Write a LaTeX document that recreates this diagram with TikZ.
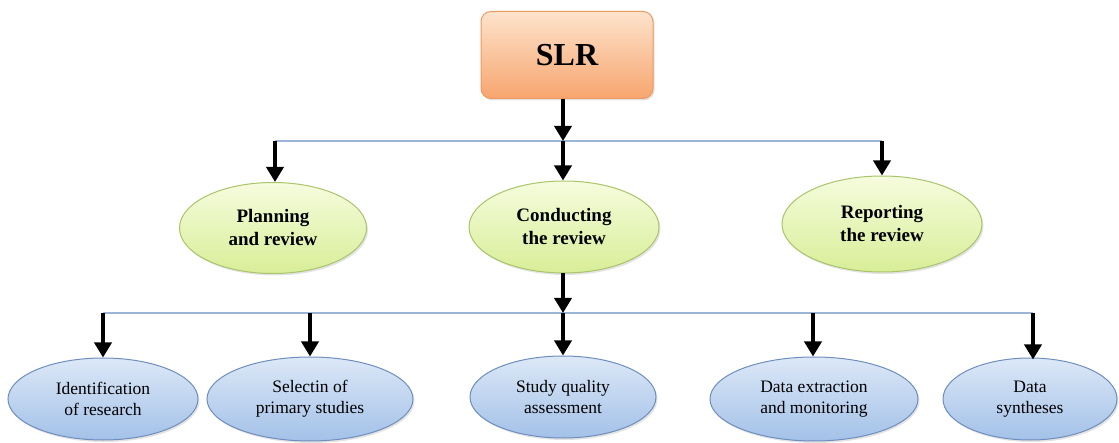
\documentclass[tikz,border=0pt]{standalone}
\usepackage{fontspec}
\setmainfont{Liberation Serif}
\usetikzlibrary{arrows.meta,shapes.geometric,shadows}

\definecolor{rootTop}{HTML}{FDE3CC}
\definecolor{rootBot}{HTML}{F7A56E}
\definecolor{rootLine}{HTML}{EE9A5E}
\definecolor{phaseTop}{HTML}{F6FCDD}
\definecolor{phaseBot}{HTML}{D8EE98}
\definecolor{phaseLine}{HTML}{A9C46A}
\definecolor{stepTop}{HTML}{DCE8F7}
\definecolor{stepBot}{HTML}{A3C1E8}
\definecolor{stepLine}{HTML}{6E8EBD}
\definecolor{busLine}{HTML}{9DB5D5}

\tikzset{
  softshadow/.style={drop shadow={opacity=0.22,shadow xshift=1.5pt,shadow yshift=-2pt}},
  rootbox/.style={rectangle,rounded corners=10pt,draw=rootLine,line width=1pt,
    top color=rootTop,bottom color=rootBot,softshadow,
    minimum width=172pt,minimum height=87pt,inner sep=0pt,
    font=\fontsize{32}{36}\selectfont\bfseries},
  phase/.style={ellipse,draw=phaseLine,line width=1pt,
    top color=phaseTop,bottom color=phaseBot,softshadow,
    inner sep=0pt,align=center,
    font=\fontsize{19}{23}\selectfont\bfseries},
  stepnode/.style={ellipse,draw=stepLine,line width=1pt,
    top color=stepTop,bottom color=stepBot,softshadow,
    inner sep=0pt,align=center,
    font=\fontsize{17.5}{21}\selectfont},
  bus/.style={draw=busLine,line width=1.6pt},
  down/.style={draw=black,line width=3.6pt,
    -{Triangle[width=17pt,length=15pt]}},
}

\begin{document}
\begin{tikzpicture}[x=1pt,y=-1pt]
  \useasboundingbox (0,0) rectangle (1119,443);

  % root
  \node[rootbox] (slr) at (567,55) {SLR};

  % phases
  \node[phase,minimum width=187pt,minimum height=91pt] (plan) at (273,228) {Planning\\and review};
  \node[phase,minimum width=190pt,minimum height=92pt] (cond) at (564,227) {Conducting\\the review};
  \node[phase,minimum width=200pt,minimum height=96pt] (rep)  at (882,224) {Reporting\\the review};

  % steps of conducting
  \node[stepnode,minimum width=190pt,minimum height=82pt] (ident) at (103,399) {Identification\\of research};
  \node[stepnode,minimum width=206pt,minimum height=84pt] (sel)   at (310,399) {Selectin of\\primary studies};
  \node[stepnode,minimum width=186pt,minimum height=82pt] (qual)  at (563,397) {Study quality\\assessment};
  \node[stepnode,minimum width=208pt,minimum height=84pt] (extr)  at (814,399) {Data extraction\\and monitoring};
  \node[stepnode,minimum width=174pt,minimum height=82pt] (syn)   at (1030,399) {Data\\syntheses};

  % first-level bus
  \coordinate (b1l) at (275,141);
  \coordinate (b1m) at (563,141);
  \coordinate (b1r) at (882,141);
  \draw[bus] (b1l) -- (b1r);
  \draw[down] (slr.south -| b1m) -- (b1m);
  \draw[down] (b1l) -- (plan.north -| b1l);
  \draw[down] (b1m) -- (cond.north -| b1m);
  \draw[down] (b1r) -- (rep.north -| b1r);

  % second-level bus
  \coordinate (b2a) at (103,313);
  \coordinate (b2b) at (310,313);
  \coordinate (b2c) at (563,313);
  \coordinate (b2d) at (813,313);
  \coordinate (b2e) at (1033,313);
  \draw[bus] (b2a) -- (b2e);
  \draw[down] (cond.south -| b2c) -- (b2c);
  \draw[down] (b2a) -- (ident.north -| b2a);
  \draw[down] (b2b) -- (sel.north -| b2b);
  \draw[down] (b2c) -- (qual.north -| b2c);
  \draw[down] (b2d) -- (extr.north -| b2d);
  \draw[down] (b2e) -- ([yshift=-2pt]syn.north -| b2e);
\end{tikzpicture}
\end{document}
